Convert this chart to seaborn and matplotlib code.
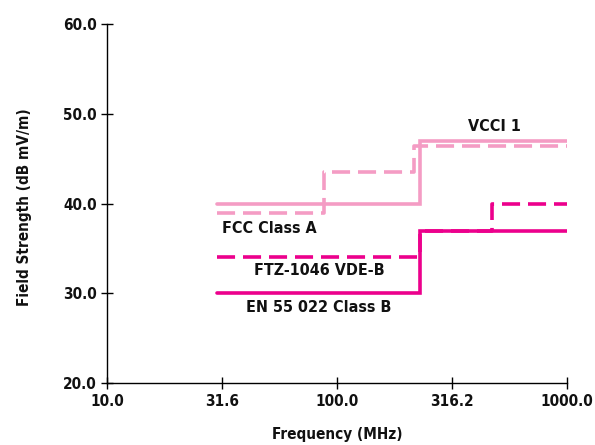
import matplotlib
matplotlib.use("Agg")
import matplotlib.pyplot as plt
import seaborn as sns
import pandas as pd

# Data (frequency breakpoints in MHz, limits in dB)
fcc_freq = [30, 88, 216, 1000]
fcc_vals = [39.0, 43.5, 46.4, 46.4]
vcci_freq = [30, 230, 1000]
vcci_vals = [40.0, 47.0, 47.0]
vde_freq = [30, 230, 470, 1000]
vde_vals = [34.0, 37.0, 40.0, 40.0]
en_freq = [30, 230, 1000]
en_vals = [30.0, 37.0, 37.0]

x_ticks = [10.0, 31.6, 100.0, 316.2, 1000.0]
y_ticks = [20.0, 30.0, 40.0, 50.0, 60.0]

sns.set_style("white")
plt.rcParams['font.family'] = ['DejaVu Sans']
plt.rcParams['font.stretch'] = 'condensed'
plt.rcParams['font.weight'] = 'bold'

light = "#F49CC4"
dark = "#EC008C"

fig = plt.figure(figsize=(5.95, 4.45), dpi=100)
ax = fig.add_axes([0.1798, 0.139, 0.953 - 0.1798, 0.946 - 0.139])

def draw(freq, vals, color, dashed):
    df = pd.DataFrame({"f": freq, "v": vals})
    sns.lineplot(data=df, x="f", y="v", ax=ax, estimator=None, sort=False,
                 legend=False, drawstyle="steps-post", linewidth=2.6, color=color)
    line = ax.lines[-1]
    if dashed:
        line.set_linestyle((0, (5, 2.2)))
    line.set_solid_joinstyle("miter")
    return line

draw(fcc_freq, fcc_vals, light, True)
draw(vcci_freq, vcci_vals, light, False)
draw(vde_freq, vde_vals, dark, True)
draw(en_freq, en_vals, dark, False)

ax.set_xscale("log")
ax.set_xlim(10, 1000)
ax.set_ylim(20, 60)
ax.set_xticks(x_ticks)
ax.set_xticklabels([f"{v:.1f}" for v in x_ticks])
ax.minorticks_off()
ax.set_yticks(y_ticks)
ax.set_yticklabels([f"{v:.1f}" for v in y_ticks])
ax.tick_params(axis="both", direction="inout", length=9, width=1.0, color="black",
               labelsize=11, pad=3, labelcolor="#111111", bottom=True, left=True)

for s in ["top", "right"]:
    ax.spines[s].set_visible(False)
for s in ["left", "bottom"]:
    ax.spines[s].set_color("black")
    ax.spines[s].set_linewidth(1.0)

ax.set_xlabel("Frequency (MHz)", fontsize=11, fontweight="bold", color="#111111")
ax.set_ylabel("Field Strength (dB mV/m)", fontsize=11, fontweight="bold", color="#111111")
ax.xaxis.label.set_va("center")
ax.yaxis.label.set_va("center")
ax.xaxis.set_label_coords(0.5, -0.142)
ax.yaxis.set_label_coords(-0.180, 0.49)

tkw = dict(fontsize=11.5, fontweight="bold", color="#111111", ha="center", va="center")
ax.text(482, 48.6, "VCCI 1", **tkw)
ax.text(51, 37.2, "FCC Class A", **tkw)
ax.text(84, 32.5, "FTZ-1046 VDE-B", **tkw)
ax.text(83, 28.4, "EN 55 022 Class B", **tkw)

fig.savefig("out.png", dpi=100)
